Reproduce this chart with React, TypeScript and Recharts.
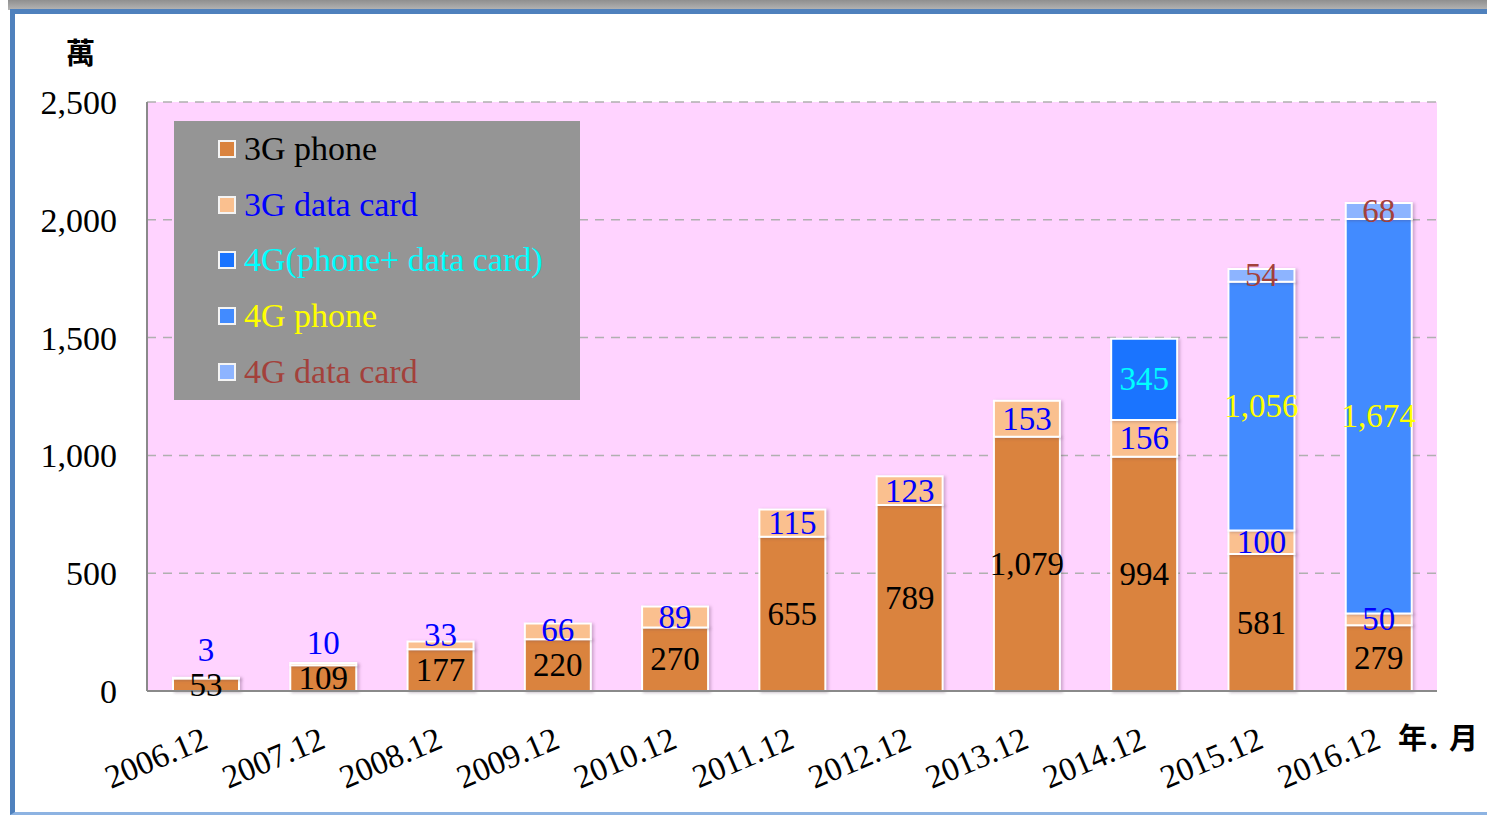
import React from "react";
import { BarChart, Bar, XAxis, YAxis, CartesianGrid, Legend, LabelList } from "recharts";

const categories = ["2006.12", "2007.12", "2008.12", "2009.12", "2010.12", "2011.12", "2012.12", "2013.12", "2014.12", "2015.12", "2016.12"];
const phone3G = [53, 109, 177, 220, 270, 655, 789, 1079, 994, 581, 279];
const card3G = [3, 10, 33, 66, 89, 115, 123, 153, 156, 100, 50];
const combo4G = [null, null, null, null, null, null, null, null, 345, null, null];
const phone4G = [null, null, null, null, null, null, null, null, null, 1056, 1674];
const card4G = [null, null, null, null, null, null, null, null, null, 54, 68];
const yTicks = [0, 500, 1000, 1500, 2000, 2500];

const data = categories.map((c, i) => ({
  name: c,
  phone3G: phone3G[i],
  card3G: card3G[i],
  combo4G: combo4G[i],
  phone4G: phone4G[i],
  card4G: card4G[i],
}));

const SERIF = "'Liberation Serif', 'Times New Roman', serif";
const CJK = "'Noto Sans CJK TC', 'Noto Sans CJK SC', sans-serif";
const FS = 33;

// plot area: y 102..691 for 0..2500
const PLOT_TOP = 102;
const PLOT_BOTTOM = 691;
const PX_PER_UNIT = (PLOT_BOTTOM - PLOT_TOP) / 2500;

const series = [
  { key: "phone3G", name: "3G phone", color: "#DA833E", text: "#000000" },
  { key: "card3G", name: "3G data card", color: "#FAC08F", text: "#0000FF" },
  { key: "combo4G", name: "4G(phone+ data card)", color: "#1A74FF", text: "#00FFFF" },
  { key: "phone4G", name: "4G phone", color: "#428BFF", text: "#FFFF00" },
  { key: "card4G", name: "4G data card", color: "#8DB4FF", text: "#A3413B" },
];

const card4GTextColors = ["#A3413B", "#A3413B", "#A3413B", "#A3413B", "#A3413B", "#A3413B", "#A3413B", "#A3413B", "#A3413B", "#D9182E", "#9C4A55"];

const fmt = (v: number) => v.toLocaleString("en-US");

function makeLabel(color: string | ((i: number) => string), avoidPhone = false) {
  return (props: any) => {
    const { x, y, width, height, value, index } = props;
    if (value == null || value === 0) return null;
    let cy = y + height / 2;
    if (avoidPhone) {
      // small 3G data card segments: lift the label above the 3G phone label
      const phoneCenter = y + height + (phone3G[index] * PX_PER_UNIT) / 2;
      cy = Math.min(cy, phoneCenter - 35);
    }
    const fill = typeof color === "function" ? color(index) : color;
    return (
      <text
        x={x + width / 2}
        y={cy}
        textAnchor="middle"
        dominantBaseline="central"
        fontFamily={SERIF}
        fontSize={FS}
        fill={fill}
      >
        {fmt(value)}
      </text>
    );
  };
}

const XTick = (props: any) => {
  const { x, y, payload } = props;
  const tx = x + 4;
  const ty = y + 56;
  return (
    <text
      x={tx}
      y={ty}
      transform={`rotate(-23, ${tx}, ${ty})`}
      textAnchor="end"
      fontFamily={SERIF}
      fontSize={FS}
      fill="#000"
    >
      {payload.value}
    </text>
  );
};

const renderLegend = () => (
  <div
    style={{
      width: 406,
      height: 279,
      background: "#959595",
      boxSizing: "border-box",
      paddingLeft: 44,
    }}
  >
    {series.map((s) => (
      <div key={s.key} style={{ height: 55.8, display: "flex", alignItems: "center" }}>
        <span
          style={{
            width: 14,
            height: 14,
            background: s.color,
            border: "2px solid #F4F4F4",
            marginRight: 8,
            display: "inline-block",
          }}
        />
        <span style={{ fontFamily: SERIF, fontSize: 34, color: s.text, lineHeight: 1 }}>{s.name}</span>
      </div>
    ))}
  </div>
);

export default function App() {
  return (
    <div
      style={{
        position: "absolute",
        left: 0,
        top: 0,
        width: 1487,
        height: 815,
        background: "#fff",
        overflow: "hidden",
      }}
    >
      <style>{`.recharts-bar-rectangle path { filter: drop-shadow(2px 1px 1.5px rgba(90,60,90,0.3)); }`}</style>
      <div style={{ position: "absolute", left: 8, top: 0, width: 1500, height: 10, background: "linear-gradient(#8f8f8f, #b5b5b5)" }} />
      <div
        style={{
          position: "absolute",
          left: 10,
          top: 9,
          width: 1520,
          height: 806,
          boxSizing: "border-box",
          borderLeft: "5px solid #4F81BD",
          borderTop: "5px solid #4F81BD",
          borderBottom: "3px solid #8DB3E2",
          background: "#fff",
        }}
      />
      <div style={{ position: "absolute", left: 0, top: 0 }}>
        <BarChart
          width={1487}
          height={815}
          data={data}
          margin={{ top: PLOT_TOP, right: 50, left: 47, bottom: 44 }}
        >
          <CartesianGrid
            vertical={false}
            fill="#FFD3FF"
            fillOpacity={1}
            stroke="#B0B0B0"
            strokeDasharray="9 7"
            strokeWidth={1.5}
          />
          <XAxis
            dataKey="name"
            height={80}
            tick={<XTick />}
            tickLine={false}
            tickSize={0}
            tickMargin={0}
            axisLine={{ stroke: "#8A8A8A", strokeWidth: 2 }}
            interval={0}
          />
          <YAxis
            width={100}
            domain={[0, 2500]}
            ticks={yTicks}
            tickFormatter={fmt}
            tickLine={false}
            tickSize={0}
            tickMargin={30}
            axisLine={{ stroke: "#8A8A8A", strokeWidth: 2 }}
            tick={{ fill: "#000", fontSize: 34, fontFamily: SERIF }}
          />
          <Legend
            content={renderLegend}
            layout="vertical"
            align="center"
            verticalAlign="middle"
            wrapperStyle={{ position: "absolute", left: 174, top: 121, width: 406, height: 279 }}
          />
          <Bar dataKey="phone3G" name="3G phone" stackId="a" fill="#DA833E" stroke="#fff" strokeWidth={2} barSize={66} isAnimationActive={false}>
            <LabelList dataKey="phone3G" content={makeLabel("#000000")} />
          </Bar>
          <Bar dataKey="card3G" name="3G data card" stackId="a" fill="#FAC08F" stroke="#fff" strokeWidth={2} barSize={66} isAnimationActive={false}>
            <LabelList dataKey="card3G" content={makeLabel("#0000FF", true)} />
          </Bar>
          <Bar dataKey="combo4G" name="4G(phone+ data card)" stackId="a" fill="#1A74FF" stroke="#fff" strokeWidth={2} barSize={66} isAnimationActive={false}>
            <LabelList dataKey="combo4G" content={makeLabel("#00FFFF")} />
          </Bar>
          <Bar dataKey="phone4G" name="4G phone" stackId="a" fill="#428BFF" stroke="#fff" strokeWidth={2} barSize={66} isAnimationActive={false}>
            <LabelList dataKey="phone4G" content={makeLabel("#FFFF00")} />
          </Bar>
          <Bar dataKey="card4G" name="4G data card" stackId="a" fill="#8DB4FF" stroke="#fff" strokeWidth={2} barSize={66} isAnimationActive={false}>
            <LabelList dataKey="card4G" content={makeLabel((i) => card4GTextColors[i])} />
          </Bar>
        </BarChart>
      </div>
      <div style={{ position: "absolute", left: 66, top: 30, fontFamily: CJK, fontWeight: 700, fontSize: 29, color: "#000" }}>萬</div>
      <div style={{ position: "absolute", left: 1398, top: 715, fontFamily: CJK, fontWeight: 700, fontSize: 29, color: "#000", whiteSpace: "pre", letterSpacing: 2 }}>年. 月</div>
    </div>
  );
}
